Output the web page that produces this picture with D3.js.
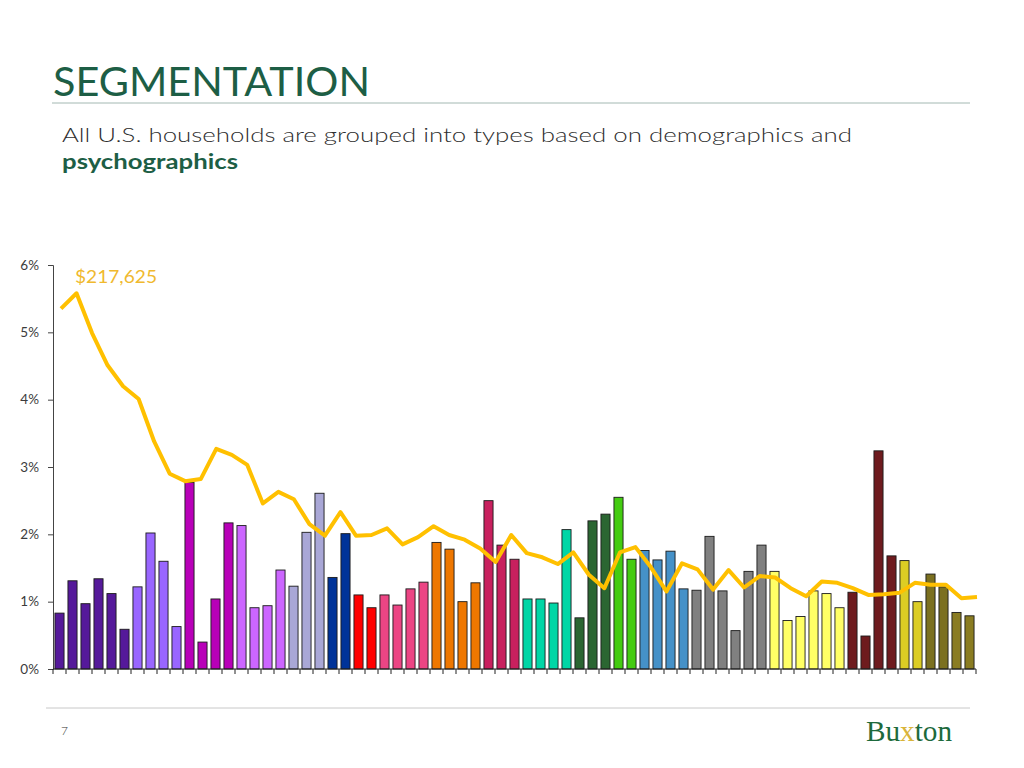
<!DOCTYPE html>
<html>
<head>
<meta charset="utf-8">
<script src="https://cdn.jsdelivr.net/npm/d3@7"></script>
<style>
  body { margin: 0; background: #fff; }
  text { font-family: "Lato", "DejaVu Sans", sans-serif; }
</style>
</head>
<body>
<div id="segments"></div>
<script>
// segment share of households (bars) and median income (line)

// data
var segments = d3.range(1, 72);
var shares = [0.83, 1.31, 0.97, 1.34, 1.12, 0.59, 1.22, 2.02, 1.60, 0.63,
  2.77, 0.40, 1.04, 2.17, 2.13, 0.91, 0.94, 1.47, 1.23, 2.03,
  2.61, 1.36, 2.01, 1.10, 0.91, 1.10, 0.95, 1.19, 1.29, 1.88,
  1.78, 1.00, 1.28, 2.50, 1.84, 1.63, 1.04, 1.04, 0.98, 2.07,
  0.76, 2.20, 2.30, 2.55, 1.63, 1.76, 1.62, 1.75, 1.19, 1.17,
  1.97, 1.16, 0.57, 1.45, 1.84, 1.45, 0.72, 0.78, 1.16, 1.12,
  0.91, 1.14, 0.49, 3.24, 1.68, 1.61, 1.00, 1.41, 1.22, 0.84, 0.79];
var groupSizes = [6, 4, 4, 4, 3, 2, 2, 4, 4, 3, 4, 3, 2, 4, 6, 6, 4, 2, 2, 2];
var groupColors = ["#55199a", "#9966ff", "#b800b8", "#cc66ff", "#a9a7d6",
  "#003399", "#ff0000", "#ec4584", "#ee7700", "#c8205e",
  "#00d6a6", "#2b6632", "#44cc11", "#4591c8", "#808080",
  "#ffff66", "#6e1b1e", "#dccd24", "#7b7020", "#8a7c22"];
var incomePoints = d3.range(1, 61);
var incomes = [208700, 217625, 194600, 175900, 163800, 156400, 131800, 113100, 108800, 110000,
  127500, 124000, 118200, 95900, 102600, 98300, 83900, 77200, 90900, 77200,
  77600, 81500, 72200, 76400, 82700, 77600, 74900, 69800, 62000, 77600,
  67100, 64700, 60800, 67500, 54600, 46800, 67500, 70600, 58900, 44900,
  61200, 57700, 46000, 57300, 47200, 53800, 53000, 46800, 42100, 50700,
  49900, 46800, 42900, 43300, 44100, 49900, 48800, 48800, 41000, 41700];
var pctTicks = [0, 0.01, 0.02, 0.03, 0.04, 0.05, 0.06];

// colour of each bar from its group
var barColors = [];
groupSizes.forEach(function(n, i){
  for (var k = 0; k < n; k++) barColors.push(groupColors[i]);
});

var width = 1024, height = 768;
var svg = d3.select("#segments").append("svg")
  .attr("width", width).attr("height", height);
svg.append("rect").attr("width", width).attr("height", height).attr("fill", "#fff");

// header
svg.append("text").attr("x", 53).attr("y", 96)
  .attr("font-size", 41).attr("fill", "#1d5e45")
  .attr("textLength", 317).attr("lengthAdjust", "spacingAndGlyphs")
  .text("SEGMENTATION");
svg.append("line").attr("x1", 52).attr("x2", 970).attr("y1", 103).attr("y2", 103)
  .attr("stroke", "#a3b8b2").attr("stroke-width", 1);
svg.append("text").attr("x", 62).attr("y", 142)
  .attr("font-size", 20).style("font-weight", 300).attr("fill", "#2e2e2e")
  .attr("textLength", 790).attr("lengthAdjust", "spacingAndGlyphs")
  .text("All U.S. households are grouped into types based on demographics and");
svg.append("text").attr("x", 62).attr("y", 169)
  .attr("font-size", 20).attr("font-weight", "bold").attr("fill", "#1d5e45")
  .attr("textLength", 176).attr("lengthAdjust", "spacingAndGlyphs")
  .text("psychographics");

// scales
var x = d3.scaleBand().domain(segments).range([53, 976])
  .paddingInner(0.3).paddingOuter(0.15);
var xLine = d3.scalePoint().domain(incomePoints).range([61, 977]);
var y = d3.scaleLinear().domain([0, 0.06]).range([669, 265]);
var yIncome = d3.scaleLinear().domain([0, 234000]).range([669, 265]);

// bars
svg.append("g").selectAll("rect").data(shares).enter().append("rect")
  .attr("x", function(d, i){ return x(segments[i]); })
  .attr("y", function(d){ return y(d / 100); })
  .attr("width", x.bandwidth())
  .attr("height", function(d){ return y(0) - y(d / 100); })
  .attr("fill", function(d, i){ return barColors[i]; })
  .attr("stroke", "#1a1a1a").attr("stroke-width", 0.9);

// y axis
var yAxis = svg.append("g").attr("transform", "translate(53,0)")
  .call(d3.axisLeft(y).tickValues(pctTicks).tickFormat(d3.format(".0%")).tickSize(5).tickPadding(9));
yAxis.select(".domain").attr("stroke", "#444");
yAxis.selectAll(".tick line").attr("stroke", "#444");
yAxis.selectAll("text").style("font-size", "13.5px").attr("fill", "#3c3c3c");

// x axis, ticks between bars
var xAxis = svg.append("g").attr("transform", "translate(0,669)");
xAxis.append("line").attr("x1", 53).attr("x2", 976).attr("stroke", "#222");
xAxis.selectAll(".tk").data(d3.range(segments.length + 1)).enter().append("line")
  .attr("class", "tk")
  .attr("x1", function(i){ return 53 + i * x.step(); })
  .attr("x2", function(i){ return 53 + i * x.step(); })
  .attr("y1", 0).attr("y2", 5).attr("stroke", "#222");

// income line
var line = d3.line()
  .x(function(d, i){ return xLine(incomePoints[i]); })
  .y(function(d){ return yIncome(d); });
svg.append("path").datum(incomes).attr("d", line)
  .attr("fill", "none").attr("stroke", "#ffc000").attr("stroke-width", 4)
  .attr("stroke-linejoin", "round");

// top income label
svg.append("text").attr("x", 75).attr("y", 283)
  .attr("font-size", 17).attr("fill", "#f0b92e")
  .attr("textLength", 82).attr("lengthAdjust", "spacingAndGlyphs")
  .text(d3.format("$,")(d3.max(incomes)));

// footer
svg.append("line").attr("x1", 46).attr("x2", 970).attr("y1", 708).attr("y2", 708)
  .attr("stroke", "#c8c8c8").attr("stroke-width", 1);
svg.append("text").attr("x", 61).attr("y", 735)
  .attr("font-size", 12).style("font-weight", 300).attr("fill", "#333").text("7");
var logo = svg.append("text").attr("x", 866).attr("y", 741)
  .style("font-family", "'Liberation Serif', serif").attr("font-size", 30)
  .attr("fill", "#1d6a3c").attr("textLength", 86).attr("lengthAdjust", "spacingAndGlyphs");
logo.append("tspan").text("Bu");
logo.append("tspan").attr("fill", "#d9b43a").text("x");
logo.append("tspan").text("ton");
</script>
</body>
</html>
